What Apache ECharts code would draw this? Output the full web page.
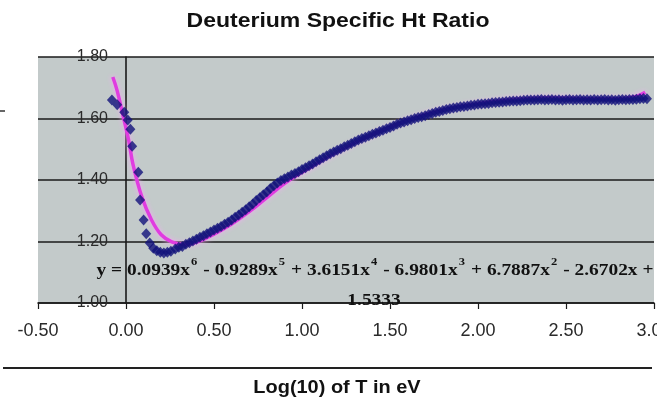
<!DOCTYPE html>
<html>
<head>
<meta charset="utf-8">
<script src="https://cdn.jsdelivr.net/npm/echarts@6/dist/echarts.min.js"></script>
<style>
html,body{margin:0;padding:0;background:#fff;}
#chart{width:657px;height:399px;}
</style>
</head>
<body>
<div id="chart"></div>
<script>
// ---- data ----
const titleText = 'Deuterium Specific Ht Ratio';
const xAxisTitle = 'Log(10) of T in eV';
const xTicks = [-0.5, 0.0, 0.5, 1.0, 1.5, 2.0, 2.5, 3.0];
const yTicks = [1.0, 1.2, 1.4, 1.6, 1.8];

// measured data points (diamonds)
const dataX = [-0.08,-0.05,-0.01,0.01,0.025,0.035,0.07,0.08,0.10,0.115,0.135,0.155,0.175,0.195,0.215,0.235,0.255,
  0.28,0.30,0.32,0.34,0.36,0.38,0.40,0.42,0.44,0.46,0.48,0.50,0.52,0.54,0.56,0.58,0.60,0.62,0.64,0.66,0.68,
  0.70,0.72,0.74,0.76,0.78,0.80,0.82,0.84,0.86,0.88,0.90,0.92,0.94,0.96,0.98,1.00,1.02,1.04,1.06,1.08,
  1.10,1.12,1.14,1.16,1.18,1.20,1.22,1.24,1.26,1.28,1.30,1.32,1.34,1.36,1.38,1.40,1.42,1.44,1.46,1.48,
  1.50,1.52,1.54,1.56,1.58,1.60,1.62,1.64,1.66,1.68,1.70,1.72,1.74,1.76,1.78,1.80,1.82,1.84,1.86,1.88,
  1.90,1.92,1.94,1.96,1.98,2.00,2.02,2.04,2.06,2.08,2.10,2.12,2.14,2.16,2.18,2.20,2.22,2.24,2.26,2.28,
  2.30,2.32,2.34,2.36,2.38,2.40,2.42,2.44,2.46,2.48,2.50,2.52,2.54,2.56,2.58,2.60,2.62,2.64,2.66,2.68,
  2.70,2.72,2.74,2.76,2.78,2.80,2.82,2.84,2.86,2.88,2.90,2.92,2.94,2.96];
const dataY = [1.66,1.645,1.62,1.595,1.565,1.51,1.425,1.335,1.27,1.225,1.195,1.178,1.170,1.165,1.163,1.165,1.168,
  1.176,1.181,1.184,1.191,1.196,1.202,1.207,1.214,1.219,1.225,1.231,1.237,1.243,1.249,1.256,1.263,1.270,1.279,1.286,1.295,1.303,
  1.313,1.322,1.333,1.342,1.352,1.361,1.372,1.381,1.390,1.398,1.404,1.410,1.416,1.421,1.427,1.434,1.440,1.446,1.452,1.459,
  1.466,1.472,1.479,1.485,1.491,1.497,1.502,1.508,1.513,1.519,1.524,1.530,1.535,1.539,1.544,1.549,1.553,1.558,1.562,1.567,
  1.571,1.576,1.581,1.585,1.589,1.593,1.596,1.600,1.603,1.606,1.609,1.613,1.616,1.620,1.623,1.626,1.629,1.632,1.634,1.636,
  1.638,1.639,1.641,1.643,1.644,1.646,1.647,1.648,1.649,1.651,1.652,1.653,1.654,1.655,1.656,1.657,1.657,1.658,1.659,1.660,
  1.660,1.660,1.661,1.662,1.660,1.661,1.662,1.660,1.661,1.659,1.661,1.662,1.660,1.661,1.662,1.660,1.661,1.660,1.662,1.660,
  1.661,1.662,1.660,1.661,1.659,1.661,1.662,1.661,1.662,1.662,1.663,1.664,1.665,1.664];

// polynomial trendline as drawn
const trendX = [-0.075,-0.05,-0.015,0.015,0.04,0.09,0.145,0.20,0.26,0.33,0.40,0.50,0.60,0.70,0.80,0.90,1.00,1.20,1.40,1.60,1.80,2.00,2.20,2.40,2.60,2.80,2.90,2.95];
const trendY = [1.735,1.69,1.605,1.53,1.45,1.345,1.27,1.222,1.199,1.19,1.197,1.224,1.257,1.297,1.343,1.388,1.425,1.492,1.548,1.594,1.628,1.648,1.662,1.667,1.664,1.664,1.672,1.685];

// trendline equation text
const eqParts = [
  ['y = 0.0939x', '6'], [' - 0.9289x', '5'], [' + 3.6151x', '4'],
  [' - 6.9801x', '3'], [' + 6.7887x', '2'], [' - 2.6702x +', '']
];
const eqLine2 = '1.5333';

// ---- chart ----
const chart = echarts.init(document.getElementById('chart'), null, {renderer: 'canvas'});
const scatterData = dataX.map((x, i) => [x, dataY[i]]);
const trendData = trendX.map((x, i) => [x, trendY[i]]);

let eqText = '';
eqParts.forEach(p => {
  eqText += '{m|' + p[0] + '}';
  if (p[1]) eqText += '{s|' + p[1] + '}';
});

const option = {
  backgroundColor: '#ffffff',
  animation: false,
  grid: {
    left: 38, right: 3, top: 57, bottom: 96,
    containLabel: false, outerBoundsMode: 'none',
    show: true, backgroundColor: '#c3caca', borderWidth: 0
  },
  xAxis: {
    type: 'value', min: xTicks[0], max: xTicks[xTicks.length - 1], interval: 0.5,
    axisLine: {show: true, lineStyle: {color: '#1a1a1a', width: 1.6}},
    axisTick: {show: true, length: 6, lineStyle: {color: '#1a1a1a', width: 1.2}},
    axisLabel: {
      formatter: v => v.toFixed(2), fontFamily: 'Liberation Sans', fontSize: 18,
      color: '#2a2a2a', margin: 19, showMaxLabel: true, showMinLabel: true
    },
    splitLine: {show: false}
  },
  yAxis: {
    type: 'value', min: yTicks[0], max: yTicks[yTicks.length - 1], interval: 0.2,
    offset: -88,
    axisLine: {show: true, onZero: false, lineStyle: {color: '#1a1a1a', width: 1.6}},
    axisTick: {show: false},
    axisLabel: {
      formatter: v => v.toFixed(2), fontFamily: 'Liberation Sans', fontSize: 16,
      color: '#2a2a2a', margin: 18
    },
    splitLine: {show: true, lineStyle: {color: '#1a1a1a', width: 1.6}}
  },
  series: [
    {
      type: 'line', data: trendData, smooth: 0.4, showSymbol: false, z: 2,
      lineStyle: {color: '#e03ce0', width: 3.5, shadowColor: '#f4a8f4', shadowBlur: 5}
    },
    {
      type: 'scatter', data: scatterData, symbol: 'diamond', symbolSize: [10, 11], z: 3,
      itemStyle: {color: '#12127a', borderWidth: 0}
    }
  ],
  graphic: [
    {
      type: 'text', x: 338, y: 21, scaleX: 1.15, z: 100,
      style: {text: titleText, fill: '#111', font: 'bold 20px "Liberation Sans"',
        textAlign: 'center', textVerticalAlign: 'middle'}
    },
    {
      type: 'text', x: 375, y: 271, scaleX: 1.14, z: 100,
      style: {
        text: eqText, textAlign: 'center', textVerticalAlign: 'middle',
        rich: {
          m: {fontFamily: 'Liberation Serif', fontWeight: 'bold', fontSize: 17, fill: '#111'},
          s: {fontFamily: 'Liberation Serif', fontWeight: 'bold', fontSize: 11, fill: '#111', padding: [0, 1, 18, 1]}
        }
      }
    },
    {
      type: 'text', x: 374, y: 301, scaleX: 1.14, z: 100,
      style: {text: eqLine2, fill: '#111', font: 'bold 17px "Liberation Serif"',
        textAlign: 'center', textVerticalAlign: 'middle'}
    },
    {
      type: 'line', z: 100,
      shape: {x1: 3, y1: 368, x2: 652, y2: 368},
      style: {stroke: '#222', lineWidth: 2}
    },
    {
      type: 'line', z: 100,
      shape: {x1: 0, y1: 111, x2: 5, y2: 111},
      style: {stroke: '#333', lineWidth: 1.5}
    },
    {
      type: 'text', x: 337, y: 388, scaleX: 1.05, z: 100,
      style: {text: xAxisTitle, fill: '#111', font: 'bold 19px "Liberation Sans"',
        textAlign: 'center', textVerticalAlign: 'middle'}
    }
  ]
};
chart.setOption(option);
</script>
</body>
</html>
